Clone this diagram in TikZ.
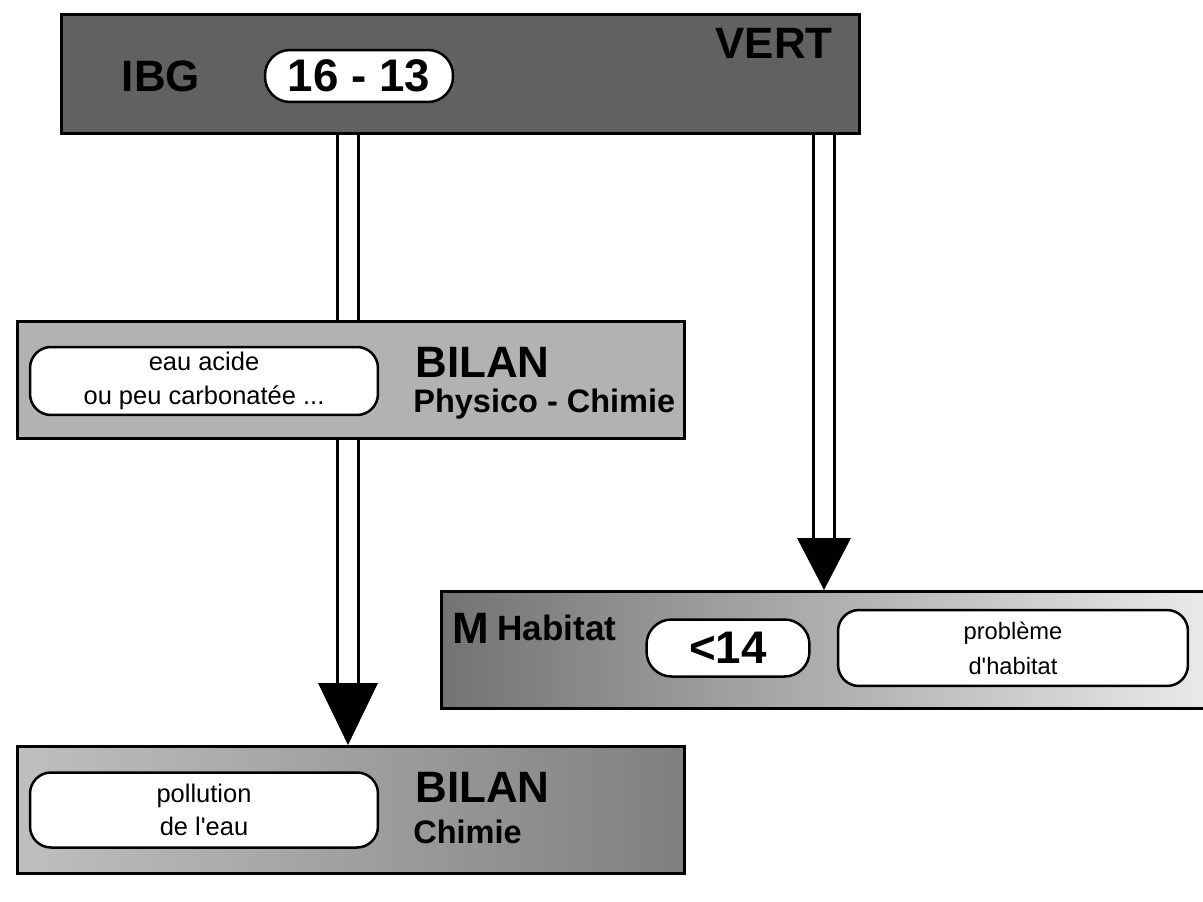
\documentclass[tikz,border=0pt]{standalone}
\usepackage{fontspec}
\setmainfont{Liberation Sans}
\usetikzlibrary{positioning,backgrounds}

\begin{document}
\begin{tikzpicture}[x=0.02cm,y=-0.02cm,
        panel/.style={draw,line width=0.06cm,anchor=north west,inner sep=0pt},
        pill/.style={draw,fill=white,line width=0.05cm,rounded corners=0.5cm,inner sep=0pt,
                     font=\bfseries\fontsize{26}{26}\selectfont},
        note/.style={draw,fill=white,line width=0.05cm,rounded corners=0.42cm,inner sep=0pt,
                     align=center,font=\fontsize{14.5}{19}\selectfont},
        heavy/.style={inner sep=0pt,font=\bfseries\fontsize{25}{25}\selectfont},
        sub/.style={inner sep=0pt,font=\bfseries\fontsize{18.5}{18.5}\selectfont},
        shaft/.style={line width=0.06cm,double distance=0.36cm,double=white},
        head/.style={fill=black}]
        \useasboundingbox (0,0) rectangle (1203,902);
        \node[panel,fill=black!62,minimum width=15.96cm,minimum height=2.38cm] (ibg) at (60,13) {};
        \node[heavy] (ibgname) at (161,76) {IBG};
        \node[pill,minimum width=3.76cm,minimum height=1.04cm] (ibgval) at (359,76) {16 - 13};
        \node[heavy,anchor=east] (vert) at (833,43) {VERT};
        \node[panel,fill=black!30,minimum width=13.34cm,minimum height=2.34cm] (chem1) at (16,320) {};
        \node[note,minimum width=6.96cm,minimum height=1.36cm] (acid) at (204,381) {eau acide\\ou peu carbonatée ...};
        \node[heavy,anchor=west] (bil1) at (415,362) {BILAN};
        \node[sub,anchor=west] (pc1) at (413,404) {Physico - Chimie};
        \node[panel,left color=black!55,right color=black!8,minimum width=15.4cm,minimum height=2.34cm] (hab) at (440,590) {};
        \node[heavy] (mlet) at (471,628) {M};
        \node[sub,font=\bfseries\fontsize{20}{20}\selectfont,right=0.15cm of mlet] (habname) {Habitat};
        \node[pill,minimum width=3.26cm,minimum height=1.14cm] (habval) at (728,648) {<14};
        \node[note,minimum width=7cm,minimum height=1.52cm,font=\fontsize{13.5}{20}\selectfont] (habnote) at (1013,648) {problème\\d\textquotesingle habitat};
        \node[panel,left color=black!25,right color=black!50,minimum width=13.34cm,minimum height=2.54cm] (chem2) at (16,745) {};
        \node[note,minimum width=6.96cm,minimum height=1.5cm] (poll) at (204,810) {pollution\\de l\textquotesingle eau};
        \node[heavy,anchor=west] (bil2) at (415,787) {BILAN};
        \node[sub,anchor=west] (pc2) at (413,832) {Chimie};
        \coordinate (lx) at (348,0);
        \coordinate (rx) at (824,0);
        \path (lx |- chem2.north) ++(0,-62) coordinate (lbase);
        \path (rx |- hab.north) ++(0,-52) coordinate (rbase);
        \begin{scope}[on background layer]
            \draw[shaft] (lx |- ibg.south) -- (lx |- chem1.north);
            \draw[shaft] (lx |- chem1.south) -- (lbase);
            \draw[shaft] (rx |- ibg.south) -- (rbase);
        \end{scope}
        \fill[head] ([xshift=-0.6cm]lbase) -- ([xshift=0.6cm]lbase) -- (lx |- chem2.north) -- cycle;
        \fill[head] ([xshift=-0.54cm]rbase) -- ([xshift=0.54cm]rbase) -- (rx |- hab.north) -- cycle;
    \end{tikzpicture}
\end{document}
